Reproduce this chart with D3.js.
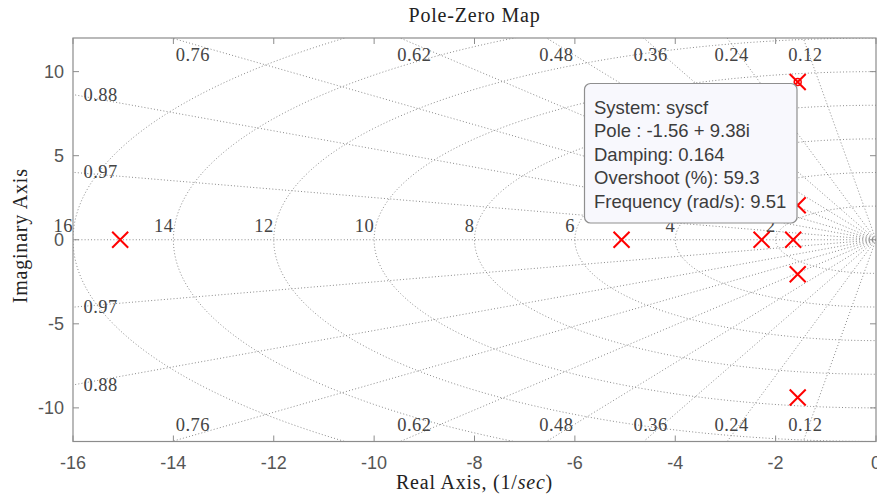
<!DOCTYPE html>
<html>
<head>
<meta charset="utf-8">
<script src="https://cdn.jsdelivr.net/npm/d3@7"></script>
<style>
  html, body { margin: 0; padding: 0; background: #fff; }
  svg { display: block; }
</style>
</head>
<body>
<svg id="chart" width="877" height="500"></svg>
<script>
// Poles of syscf (real and imaginary parts)
const poleRe = [-15.06, -5.07, -2.28, -1.65, -1.56, -1.56, -1.56, -1.56];
const poleIm = [0, 0, 0, 0, 9.38, -9.38, 2.05, -2.05];

// Grid: damping ratios and natural frequencies
const dampingValues = [0.12, 0.24, 0.36, 0.48, 0.62, 0.76, 0.88, 0.97];
const freqValues = [2, 4, 6, 8, 10, 12, 14, 16];

// Axis ticks
const xTicks = [-16, -14, -12, -10, -8, -6, -4, -2, 0];
const yTicks = [-10, -5, 0, 5, 10];
const xDomain = [-16, 0];
const yDomain = [-12, 12];

// Data tip content for the selected pole
const tipLines = [
  "System: syscf",
  "Pole : -1.56 + 9.38i",
  "Damping: 0.164",
  "Overshoot (%): 59.3",
  "Frequency (rad/s): 9.51"
];
const tipPole = [-1.56, 9.38];

(function draw() {
  const svg = d3.select("#chart");
  const pL = 73, pR = 876, pT = 38, pB = 441.5;
  const x = d3.scaleLinear().domain(xDomain).range([pL, pR]);
  const y = d3.scaleLinear().domain(yDomain).range([pB, pT]);

  const serif = "'Liberation Serif', 'Times New Roman', serif";
  const sans = "'Liberation Sans', Arial, Helvetica, sans-serif";
  const gridColor = "#8a8a8a";
  const axisColor = "#8c8c8c";
  const tickTextColor = "#555";

  svg.append("defs").append("clipPath").attr("id", "plotClip")
    .append("rect").attr("x", pL).attr("y", pT)
    .attr("width", pR - pL).attr("height", pB - pT);

  const plot = svg.append("g").attr("clip-path", "url(#plotClip)");

  // Constant-frequency semicircles in the left half plane
  const line = d3.line().x(d => x(d[0])).y(d => y(d[1]));
  freqValues.forEach(wn => {
    const pts = d3.range(0, 241).map(i => {
      const a = Math.PI / 2 + Math.PI * i / 240;
      return [wn * Math.cos(a), wn * Math.sin(a)];
    });
    plot.append("path").attr("d", line(pts))
      .attr("fill", "none").attr("stroke", gridColor)
      .attr("stroke-width", 1).attr("stroke-dasharray", "1,2.2");
  });

  // Constant-damping rays from the origin, plus the negative real axis
  [...dampingValues, 1].forEach(z => {
    const s = Math.sqrt(1 - z * z);
    [1, -1].forEach(sign => {
      if (z === 1 && sign === -1) return;
      plot.append("path").attr("d", line([[0, 0], [-z * 40, sign * s * 40]]))
        .attr("fill", "none").attr("stroke", gridColor)
        .attr("stroke-width", 1).attr("stroke-dasharray", "1,2.2");
    });
  });

  // Damping labels where each ray leaves the axes
  const labels = svg.append("g")
    .attr("font-family", serif).attr("font-size", 18.5)
    .attr("fill", "#444").attr("letter-spacing", 0.5);
  dampingValues.forEach(z => {
    const s = Math.sqrt(1 - z * z);
    const xTop = -yDomain[1] * z / s;
    [1, -1].forEach(sign => {
      let lx, ly;
      if (xTop >= xDomain[0]) {
        lx = x(0.97 * xTop);
        ly = y(sign * 11.0);
      } else {
        const yEdge = -xDomain[0] * s / z;
        lx = x(-15.45);
        ly = y(sign * yEdge);
      }
      labels.append("text").attr("x", lx).attr("y", ly)
        .attr("text-anchor", "middle").attr("dominant-baseline", "central")
        .text(String(z));
    });
  });

  // Frequency labels just above the real axis
  freqValues.forEach(wn => {
    labels.append("text").attr("x", x(-wn)).attr("y", y(0) - 8)
      .attr("text-anchor", "end").text(String(wn));
  });

  // Axes box and inward ticks
  const axes = svg.append("g");
  axes.append("rect").attr("x", pL).attr("y", pT)
    .attr("width", pR - pL).attr("height", pB - pT)
    .attr("fill", "none").attr("stroke", axisColor).attr("stroke-width", 1.2);
  const tickLen = 6;
  xTicks.forEach(t => {
    axes.append("line").attr("x1", x(t)).attr("x2", x(t))
      .attr("y1", pB).attr("y2", pB - tickLen)
      .attr("stroke", axisColor);
    axes.append("line").attr("x1", x(t)).attr("x2", x(t))
      .attr("y1", pT).attr("y2", pT + tickLen)
      .attr("stroke", axisColor);
    axes.append("text").attr("x", x(t)).attr("y", 468.5)
      .attr("text-anchor", "middle").attr("font-family", sans)
      .attr("font-size", 18).attr("fill", tickTextColor).text(String(t));
  });
  yTicks.forEach(t => {
    axes.append("line").attr("x1", pL).attr("x2", pL + tickLen)
      .attr("y1", y(t)).attr("y2", y(t)).attr("stroke", axisColor);
    axes.append("line").attr("x1", pR).attr("x2", pR - tickLen)
      .attr("y1", y(t)).attr("y2", y(t)).attr("stroke", axisColor);
    axes.append("text").attr("x", 64).attr("y", y(t))
      .attr("text-anchor", "end").attr("dominant-baseline", "central")
      .attr("font-family", sans).attr("font-size", 18)
      .attr("fill", tickTextColor).text(String(t));
  });

  // Pole markers
  const xs = 8;
  const poles = svg.append("g").attr("stroke", "#ff0000").attr("stroke-width", 2);
  poleRe.forEach((re, i) => {
    const cx = x(re), cy = y(poleIm[i]);
    poles.append("path")
      .attr("d", `M${cx - xs},${cy - xs}L${cx + xs},${cy + xs}M${cx - xs},${cy + xs}L${cx + xs},${cy - xs}`)
      .attr("fill", "none");
  });
  // Data tip marker on the selected pole
  svg.append("circle").attr("cx", x(tipPole[0])).attr("cy", y(tipPole[1]))
    .attr("r", 3.5).attr("fill", "none").attr("stroke", "#ff0000").attr("stroke-width", 1.5);

  // Data tip box
  const tip = svg.append("g");
  tip.append("rect").attr("x", 584.5).attr("y", 83.5)
    .attr("width", 212.5).attr("height", 139.5).attr("rx", 6)
    .attr("fill", "#f8f8fd").attr("stroke", "#8f8f8f").attr("stroke-width", 1.2);
  tipLines.forEach((s, i) => {
    tip.append("text").attr("x", 594).attr("y", 113.5 + i * 23.6)
      .attr("font-family", sans).attr("font-size", 18.5)
      .attr("fill", "#3c3c3c").text(s);
  });

  // Titles
  svg.append("text").attr("x", (pL + pR) / 2).attr("y", 21.5)
    .attr("text-anchor", "middle").attr("font-family", serif)
    .attr("font-size", 20).attr("letter-spacing", 0.8).attr("fill", "#222")
    .text("Pole-Zero Map");

  const xl = svg.append("text").attr("x", (pL + pR) / 2).attr("y", 489)
    .attr("text-anchor", "middle").attr("font-family", serif)
    .attr("font-size", 20).attr("letter-spacing", 0.8).attr("fill", "#222");
  xl.append("tspan").text("Real Axis, (1/");
  xl.append("tspan").attr("font-style", "italic").text("sec");
  xl.append("tspan").text(")");

  svg.append("text")
    .attr("transform", `translate(27,${(pT + pB) / 2 - 4}) rotate(-90)`)
    .attr("text-anchor", "middle").attr("font-family", serif)
    .attr("font-size", 20).attr("letter-spacing", 0.8).attr("fill", "#222")
    .text("Imaginary Axis");
})();
</script>
</body>
</html>
